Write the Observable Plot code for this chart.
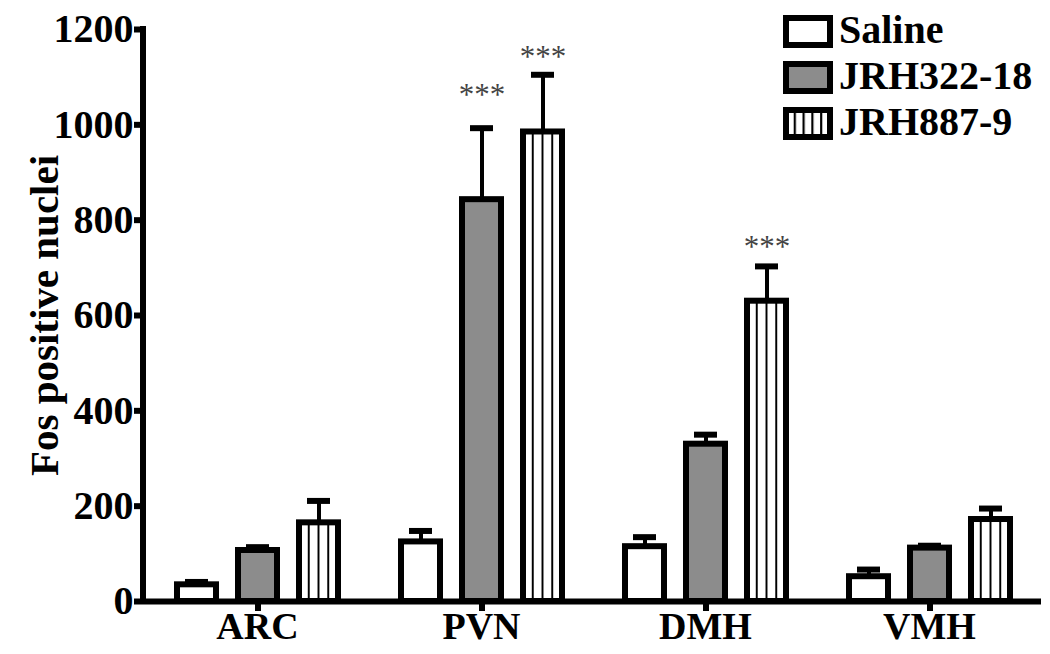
<!DOCTYPE html>
<html><head><meta charset="utf-8">
<script src="https://cdn.jsdelivr.net/npm/d3@7"></script>
<script src="https://cdn.jsdelivr.net/npm/@observablehq/plot@0.6"></script>
<style>
body{margin:0;background:#fff;}
#wrap{position:relative;width:1050px;height:654px;overflow:hidden;}
#legend{position:absolute;left:0;top:0;pointer-events:none;}
</style></head><body><div id="wrap"></div>
<script>
const regions = ["ARC", "PVN", "DMH", "VMH"];
const groups = ["Saline", "JRH322-18", "JRH887-9"];
const salineMean = [35, 125, 115, 52];
const salineUpper = [41, 148, 135, 67];
const jrh322Mean = [107, 843, 330, 112];
const jrh322Upper = [114, 993, 350, 117];
const jrh887Mean = [165, 985, 630, 172];
const jrh887Upper = [211, 1105, 703, 195];
const yTicks = [0, 200, 400, 600, 800, 1000, 1200];
const yLabel = "Fos positive nuclei";
const starRegions = ["PVN", "PVN", "DMH"];
const starGroups = ["JRH322-18", "JRH887-9", "JRH887-9"];
const starY = [1072, 1152, 754];
const fills = ["white", "#8c8c8c", "url(#vstripe)"];

const means = [salineMean, jrh322Mean, jrh887Mean];
const uppers = [salineUpper, jrh322Upper, jrh887Upper];
const rows = [];
regions.forEach((r, i) => groups.forEach((g, j) => rows.push({region: r, group: g, mean: means[j][i], upper: uppers[j][i]})));
const stars = starRegions.map((r, i) => ({region: r, group: starGroups[i], y: starY[i]}));

const font = '"Liberation Serif", "Times New Roman", serif';
const mL = 143;
const plot = Plot.plot({
  width: 1050, height: 654,
  marginLeft: mL, marginRight: 8, marginTop: 29, marginBottom: 53,
  style: {fontFamily: font, fontWeight: "bold", background: "white", color: "black"},
  fx: {domain: regions, padding: 0, label: null},
  x: {domain: groups, paddingInner: 0.366, paddingOuter: 0.506, label: null},
  y: {domain: [0, 1200], label: null},
  color: {domain: groups, range: fills},
  marks: [
    Plot.ruleX(rows, {fx: "region", x: "group", y1: "mean", y2: "upper", strokeWidth: 4}),
    Plot.tickY(rows, {fx: "region", x: "group", y: "upper", strokeWidth: 6, insetLeft: 8, insetRight: 8}),
    Plot.barY(rows, {fx: "region", x: "group", y: "mean", fill: "group", stroke: "black", strokeWidth: 6}),
    Plot.ruleY([0], {strokeWidth: 6}),
    Plot.text(stars, {fx: "region", x: "group", y: "y", text: () => "***", fontSize: 31, fontWeight: "normal", fill: "#444", dy: 5}),
    Plot.axisY({ticks: yTicks, tickFormat: d => String(d), tickSize: 11, tickPadding: 1, strokeWidth: 6, fontSize: 40, label: null}),
    Plot.text([{region: regions[0], t: yLabel}], {fx: "region", text: "t", frameAnchor: "left", textAnchor: "middle", rotate: -90, dx: -101, fontSize: 41, fontWeight: "bold"}),
    Plot.axisX({anchor: "bottom", ticks: [groups[1]], tickFormat: () => "", tickSize: 10, strokeWidth: 6, label: null}),
    Plot.axisFx({anchor: "bottom", tickSize: 0, tickPadding: 11, fontSize: 38, label: null})
  ]
});

// y axis line drawn from the plot's own y scale
const ys = plot.scale("y");
const svg = d3.select(plot);
svg.append("line").attr("x1", mL).attr("x2", mL)
  .attr("y1", ys.apply(0) + 3).attr("y2", ys.apply(1200) - 3)
  .attr("stroke", "black").attr("stroke-width", 6);

const defs = svg.append("defs");
const pat = defs.append("pattern").attr("id", "vstripe")
  .attr("patternUnits", "objectBoundingBox").attr("patternContentUnits", "objectBoundingBox")
  .attr("x", -0.025).attr("y", 0).attr("width", 0.25).attr("height", 1);
pat.append("rect").attr("width", 0.25).attr("height", 1).attr("fill", "white");
pat.append("rect").attr("width", 0.05).attr("height", 1).attr("fill", "black");

document.getElementById("wrap").appendChild(plot);

// legend overlay
const lg = d3.select("#wrap").append("svg").attr("id", "legend").attr("width", 1050).attr("height", 654);
const lpat = lg.append("defs").append("pattern").attr("id", "vstripeL")
  .attr("patternUnits", "objectBoundingBox").attr("patternContentUnits", "objectBoundingBox")
  .attr("x", -0.025).attr("y", 0).attr("width", 0.2).attr("height", 1);
lpat.append("rect").attr("width", 0.2).attr("height", 1).attr("fill", "white");
lpat.append("rect").attr("width", 0.05).attr("height", 1).attr("fill", "black");
const legendFills = ["white", "#8c8c8c", "url(#vstripeL)"];
const item = lg.selectAll("g").data(groups).join("g")
  .attr("transform", (d, i) => `translate(786,${18 + i * 46})`);
item.append("rect").attr("width", 44).attr("height", 27)
  .attr("fill", (d, i) => legendFills[i]).attr("stroke", "black").attr("stroke-width", 6);
item.append("text").attr("x", 53).attr("y", 25).text(d => d)
  .attr("font-family", font).attr("font-weight", "bold").attr("font-size", 40).attr("fill", "black");
</script></body></html>
